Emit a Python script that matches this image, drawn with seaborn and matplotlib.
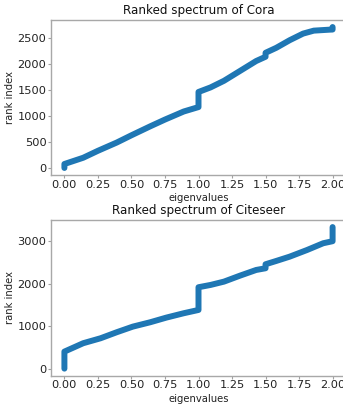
import matplotlib
matplotlib.use("Agg")
import matplotlib.pyplot as plt
import seaborn as sns
import pandas as pd

# Cora: eigenvalue vs rank index (key points)
cora_eig = [0.0, 0.0, 0.14, 0.25, 0.39, 0.50, 0.64, 0.75, 0.89, 1.0, 1.0, 1.09, 1.19,
            1.31, 1.43, 1.50, 1.50, 1.58, 1.68, 1.78, 1.86, 1.98, 2.0, 2.0]
cora_rank = [0, 76, 196, 330, 488, 628, 800, 930, 1085, 1170, 1460, 1548, 1675,
             1865, 2055, 2137, 2213, 2309, 2455, 2582, 2639, 2658, 2660, 2708]

# Citeseer
cite_eig = [0.0, 0.0, 0.14, 0.27, 0.39, 0.51, 0.64, 0.76, 0.89, 1.0, 1.0, 1.09, 1.19,
            1.31, 1.43, 1.50, 1.50, 1.58, 1.68, 1.81, 1.93, 2.0, 2.0]
cite_rank = [0, 400, 597, 714, 855, 987, 1090, 1199, 1302, 1379, 1913, 1967, 2045,
             2186, 2319, 2359, 2453, 2531, 2632, 2789, 2947, 2995, 3327]

titles = ["Ranked spectrum of Cora", "Ranked spectrum of Citeseer"]
xticks = [0.0, 0.25, 0.5, 0.75, 1.0, 1.25, 1.5, 1.75, 2.0]
xticklabels = ["0.00", "0.25", "0.50", "0.75", "1.00", "1.25", "1.50", "1.75", "2.00"]

sns.set_theme(style="white")
plt.rcParams['font.family'] = ['DejaVu Sans']

fig = plt.figure(figsize=(3.43, 4.05), dpi=100)
W, H = 343.0, 405.0
ax1 = fig.add_axes([51 / W, 1 - 175 / H, (346 - 51) / W, (175 - 20) / H])
ax2 = fig.add_axes([51 / W, 1 - 375.7 / H, (346 - 51) / W, (375.7 - 220) / H])

datasets = [(cora_eig, cora_rank), (cite_eig, cite_rank)]
for ax, (eig, rank), title in zip([ax1, ax2], datasets, titles):
    df = pd.DataFrame({"eigenvalues": eig, "rank index": rank})
    sns.lineplot(data=df, x="eigenvalues", y="rank index", sort=False, estimator=None,
                 ax=ax, color="#1f77b4", linewidth=4.3,
                 solid_capstyle="round", solid_joinstyle="round")
    ax.set_xticks(xticks)
    ax.set_xticklabels(xticklabels)
    ax.set_xlim(-0.1, 2.1)
    lo, hi = 0, max(rank)
    m = 0.05 * (hi - lo)
    ax.set_ylim(lo - m, hi + m)
    ax.set_title(title, fontsize=8.6, color="#111111", pad=4.5)
    ax.set_xlabel("eigenvalues", fontsize=7.2, color="#222222", labelpad=2.5)
    ax.set_ylabel("rank index", fontsize=7.2, color="#222222", labelpad=1.5)
    ax.tick_params(axis="both", labelsize=8.2, colors="#222222", length=2.5, width=0.8,
                   color="#a0a0a0", pad=0.8, bottom=True, left=True)
    for s in ax.spines.values():
        s.set_color("#a8a8a8")
        s.set_linewidth(1.0)

ax1.set_yticks([0, 500, 1000, 1500, 2000, 2500])
ax2.set_yticks([0, 1000, 2000, 3000])

fig.savefig("out.png", dpi=100)
